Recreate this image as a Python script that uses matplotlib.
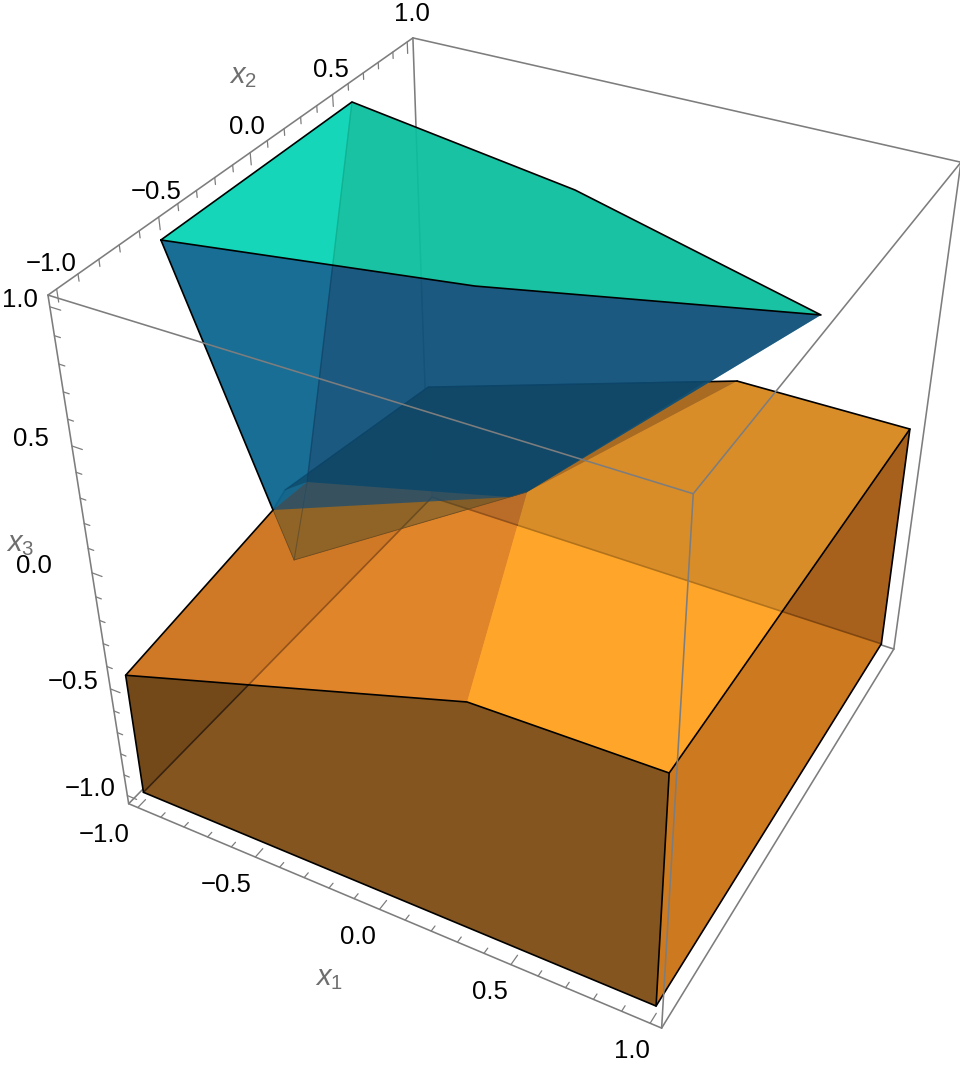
import numpy as np
import matplotlib
matplotlib.use('Agg')
import matplotlib.pyplot as plt
from mpl_toolkits.mplot3d.art3d import Poly3DCollection

plt.rcParams['font.family'] = ['Liberation Sans', 'DejaVu Sans']
plt.rcParams['mathtext.fontset'] = 'custom'
plt.rcParams['mathtext.it'] = 'Liberation Sans:italic'
plt.rcParams['mathtext.rm'] = 'Liberation Sans'

# camera fitted to the box corners, in image pixels
camera = [[229.92153, 193.42336, -44.41277, 527.95892],
          [55.23959, -103.12655, -279.32099, 495.95053],
          [-0.0554452, 0.1008664, -0.0843490, 1.0]]

# box half width, axis ranges are padded a little past +-1
box = 1.04

# lower solid, vertices
o_t1 = (-1.0, -1.0, -0.453)
o_t2 = (0.334, -1.0, -0.003)
o_t3 = (1.0, -1.0, 0.01)
o_t4 = (1.0, 1.0, -0.002)
o_t5 = (0.333, 1.0, -0.005)
o_t6 = (-1.0, 1.0, -0.446)
o_t7 = (-1.0, -0.021, -0.308)
o_t8 = (-1.0, -0.104, -0.345)
o_b1 = (-1.0, -1.0, -1.0)
o_b2 = (1.0, -1.0, -1.0)
o_b3 = (1.0, 1.0, -1.0)
o_b4 = (-1.0, 1.0, -1.0)

# upper solid
b_u1 = (-0.993, -0.559, 1.0)
b_u2 = (-0.996, 0.552, 1.0)
b_u3 = (-0.013, 0.342, 1.0)
b_u4 = (0.976, -0.006, 1.0)
b_u5 = (0.004, -0.341, 1.0)
b_v2 = (-0.721, -0.378, -0.284)
b_v3 = (-0.062, -0.013, -0.018)
b_v4 = (-0.024, 0.038, -0.016)
b_v7 = (-0.959, 0.063, -0.311)
b_w = (0.21, 1.0, -0.045)

major_ticks = [-1.0, -0.5, 0.0, 0.5, 1.0]
minor_ticks = [-0.9, -0.8, -0.7, -0.6, -0.4, -0.3, -0.2, -0.1, 0.1, 0.2, 0.3, 0.4, 0.6, 0.7, 0.8, 0.9]
tick_labels = ['\u22121.0', '\u22120.5', '0.0', '0.5', '1.0']

fig = plt.figure(figsize=(9.6, 10.65), dpi=100)
ax = fig.add_axes([-52.5 / 960, 0, 1065 / 960, 1], projection='3d', computed_zorder=False)
ax.set_axis_off()
ax.set_proj_type('ortho')  # stops Line3D clipping to the unit square

# axes data space in 2D is the image pixel grid, so the camera goes straight in
p = np.array(camera)
M = np.vstack([p[0], p[1], [0, 0, 0, 1], p[2]])
ax.get_proj = lambda: M
ax.viewLim.intervalx = (-52.5, 1012.5)
ax.viewLim.intervaly = (1065, 0)


def face(verts, rgb, alpha, z):
    col = tuple(c / 255 for c in rgb) + (alpha,)
    ax.add_collection3d(Poly3DCollection([verts], facecolors=[col], edgecolors='none', linewidths=0, zorder=z))


def path(verts, color, lw, z, alpha=1.0):
    v = np.array(verts)
    ax.plot(v[:, 0], v[:, 1], v[:, 2], color=color, lw=lw, zorder=z, alpha=alpha, solid_capstyle='round')


grey = '#7d7d7d'
c = [(-box, -box, box), (-box, -box, -box), (box, -box, -box), (-box, box, box),
     (box, -box, box), (box, box, box), (box, box, -box), (-box, box, -box)]

# box edges behind everything
for a, b in [(0, 3), (3, 5), (0, 1), (1, 2), (2, 6), (5, 6), (3, 7), (1, 7), (6, 7)]:
    path([c[a], c[b]], grey, 1.15, 1)

# orange, inside faces first
face([o_b1, o_b2, o_b3, o_b4], (255, 170, 50), 1.0, 2)
face([o_t5, o_t4, o_b3, o_b4, o_t6], (130, 90, 45), 1.0, 2.1)
face([o_t1, o_t8, o_t7, o_t6, o_b4, o_b1], (198, 127, 33), 1.0, 2.2)
path([o_b1, o_b4], '#000000', 1.2, 2.5)
path([o_b4, o_b3], '#000000', 1.2, 2.5)
path([o_b4, o_t6], '#000000', 0.8, 2.5, 0.6)

face([o_t7, o_t6, o_t5, b_v4, b_v3, b_v7], (186, 114, 29), 0.7, 3)
face([o_t1, o_t2, b_v4, b_v3, b_v7, o_t7, o_t8], (211, 118, 39), 0.7, 3.1)
face([o_t2, o_t3, o_t4, o_t5, b_v4], (255, 164, 40), 0.7, 3.2)
face([o_t1, o_t2, o_t3, o_b2, o_b1], (81, 50, 23), 0.7, 3.3)
face([o_t3, o_t4, o_b3, o_b2], (184, 101, 23), 0.7, 3.4)
path([o_t8, o_t1, o_t2, o_t3, o_t4, o_t5], '#000000', 1.2, 4)
path([o_t5, o_t6, o_t7, o_t8], '#000000', 1.2, 4)
path([o_t1, o_b1, o_b2, o_b3, o_t4], '#000000', 1.2, 4)
path([o_t3, o_b2], '#000000', 1.2, 4)

# blue, rear faces then front and top
face([b_u1, b_u2, b_v7, o_t8], (4, 181, 217), 0.85, 5)
face([b_u2, b_u3, b_u4, b_v4, b_v3, b_v7], (4, 93, 124), 0.8, 5.1)
face([o_t8, b_v7, b_v3, b_v4, b_v2], (50, 70, 42), 0.4, 5.2)
face([o_t7, o_t6, b_w, b_v4, b_v3, b_v7], (5, 50, 45), 0.6, 5.3)
path([b_u2, b_v7], '#06283c', 1.0, 5.5, 0.75)
path([b_v7, b_v2], '#5a4a30', 0.8, 5.5, 0.7)
path([o_t8, b_v2, b_v4], '#6a4a20', 0.6, 5.5)
path([o_t7, o_t6, b_w], '#06283c', 0.8, 5.5, 0.5)
face([b_u1, b_u5, b_u4, b_v4, b_v3, o_t8], (17, 75, 119), 0.7, 6)
face([b_u1, b_u2, b_u3, b_u4, b_u5], (13, 224, 169), 0.7, 6.1)
path([b_u1, b_u2, b_u3, b_u4, b_u5, b_u1], '#000000', 1.2, 7)
path([b_u1, o_t8], '#000000', 1.2, 7)

# box edges in front
for a, b in [(0, 4), (4, 2), (4, 5)]:
    path([c[a], c[b]], grey, 1.15, 8)

# ticks
for t, n in [(major_ticks, 0.045), (minor_ticks, 0.025)]:
    for v in t:
        path([(v, -box, -box), (v, -box + n, -box)], grey, 0.9, 9)
        path([(-box, v, box), (-box, v, box - n)], grey, 0.9, 9)
        path([(-box, -box, v), (-box + n * 0.9, -box, v)], grey, 0.9, 9)

x1_pos = [(104, 835), (226, 885), (358, 937), (490, 992), (632, 1051)]
x2_pos = [(51, 264), (156, 192), (247, 127), (331, 70), (412, 14)]
x3_pos = [(90, 789), (73, 682), (34, 566), (31, 439), (20, 300)]
for pos in (x1_pos, x2_pos, x3_pos):
    for (px, py), s in zip(pos, tick_labels):
        ax.text2D(px, py, s, transform=ax.transData, fontsize=18.5, ha='center', va='center', color='black')

for (px, py), s in [((329, 978), r'$\mathit{x}_{1}$'), ((243, 76), r'$\mathit{x}_{2}$'), ((20, 544), r'$\mathit{x}_{3}$')]:
    ax.text2D(px, py, s, transform=ax.transData, fontsize=21, ha='center', va='center', color='#6e6e6e')

fig.savefig('out.png', dpi=100)
